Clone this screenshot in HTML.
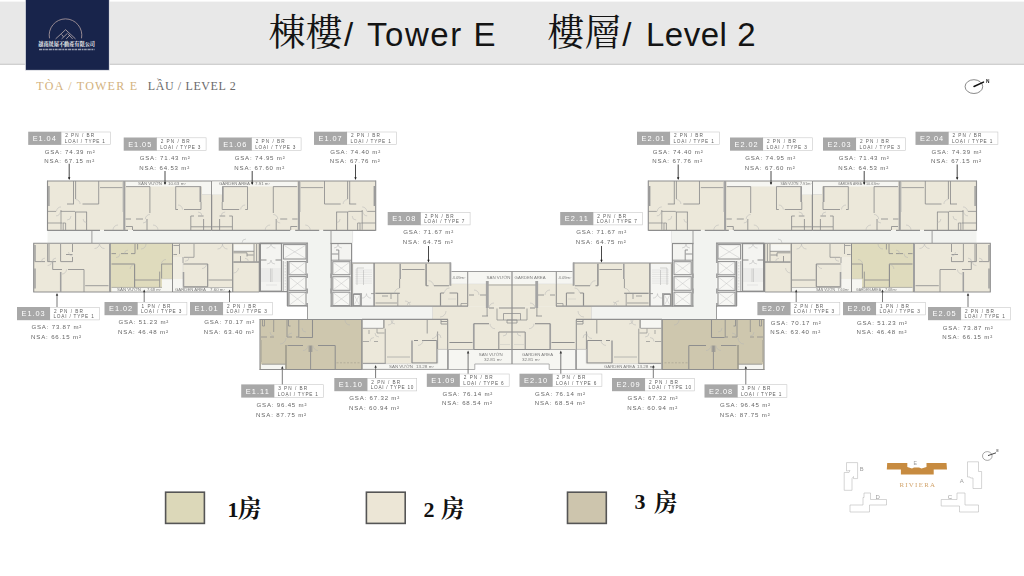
<!DOCTYPE html>
<html><head><meta charset="utf-8"><title>Tower E Level 2</title>
<style>
html,body{margin:0;padding:0;background:#fff}
body{width:1024px;height:576px;overflow:hidden;position:relative;font-family:"Liberation Sans",sans-serif}
svg{position:absolute;left:0;top:0;display:block}
svg text{font-family:"Liberation Sans",sans-serif}
svg text.serif{font-family:"Liberation Serif","Noto Serif CJK SC",serif}
svg text.c{font-size:7.4px;fill:#ffffff}
svg text.a{font-size:4.7px;fill:#5e5e5e}
svg text.b{font-size:4.7px;fill:#5e5e5e}
svg text.g{font-size:6.1px;fill:#666}
</style></head><body>
<svg width="1024" height="576" viewBox="0 0 1024 576">
<defs>
<filter id="soft" x="-2%" y="-2%" width="104%" height="104%"><feGaussianBlur stdDeviation="0.5"/></filter>
<filter id="soft2" x="-5%" y="-20%" width="110%" height="140%"><feGaussianBlur stdDeviation="0.3"/></filter>
<g id="half"><rect x="47.5" y="181.0" width="328.0" height="49.3" fill="#ece8da" /><rect x="47.5" y="230.3" width="305.2" height="12.9" fill="#f2f3f0" /><rect x="307.5" y="243.0" width="23.5" height="76.5" fill="#f2f3f0" /><rect x="307.5" y="306.5" width="125.0" height="13.0" fill="#f2f3f0" /><rect x="33.7" y="243.2" width="76.3" height="48.8" fill="#ece8da" /><rect x="110.0" y="243.2" width="62.5" height="48.8" fill="#dfdbbd" /><rect x="172.5" y="243.2" width="87.0" height="48.8" fill="#ece8da" /><rect x="173.0" y="257.0" width="10.0" height="22.0" fill="#f0ede2" /><rect x="111.5" y="287.6" width="61.0" height="4.4" fill="#f6f6f2" /><rect x="162.0" y="279.0" width="10.5" height="13.0" fill="#f6f6f2" /><rect x="172.5" y="279.0" width="10.3" height="13.0" fill="#f6f6f2" /><rect x="172.5" y="287.6" width="59.5" height="4.4" fill="#f6f6f2" /><rect x="234.0" y="244.5" width="20.0" height="6.5" fill="#f6f6f2" /><rect x="260.0" y="243.5" width="47.5" height="62.5" fill="#f4f4f1" /><rect x="260.0" y="291.5" width="27.0" height="15.0" fill="#ffffff" /><rect x="331.0" y="243.5" width="20.5" height="62.5" fill="#f4f4f1" /><rect x="352.0" y="263.0" width="99.0" height="43.2" fill="#ece8da" /><rect x="353.0" y="264.0" width="21.0" height="42.0" fill="#f5f5f2" /><rect x="451.0" y="283.7" width="61.0" height="22.5" fill="#ece8da" /><rect x="451.5" y="271.5" width="60.5" height="12.5" fill="#f6f6f2" /><rect x="432.5" y="306.2" width="79.5" height="43.3" fill="#ece8da" /><rect x="448.4" y="349.5" width="63.6" height="14.5" fill="#f6f6f2" /><rect x="448.4" y="364.0" width="26.4" height="5.5" fill="#f6f6f2" /><rect x="260.0" y="319.5" width="102.0" height="49.9" fill="#cec7ae" /><rect x="261.0" y="364.4" width="24.6" height="5.0" fill="#f6f6f2" /><rect x="361.8" y="319.4" width="85.9" height="50.0" fill="#ece8da" /><rect x="362.7" y="320.0" width="20.7" height="8.0" fill="#f6f6f2" /><rect x="362.7" y="363.7" width="85.0" height="5.7" fill="#f6f6f2" /><rect x="437.7" y="349.4" width="10.0" height="20.0" fill="#f6f6f2" /><rect x="126.0" y="181.5" width="85.6" height="4.9" fill="#f6f6f2" /><rect x="202.0" y="181.5" width="9.6" height="13.0" fill="#f6f6f2" /><path d="M47.5 181L211.6 181" stroke="#8e8e8e" stroke-width="1.12" fill="none" /><path d="M47.5 180.5L47.5 230.8" stroke="#8e8e8e" stroke-width="1.12" fill="none" /><path d="M47.5 230.3L100 230.3M104 230.3L128 230.3M133 230.3L211.6 230.3" stroke="#8e8e8e" stroke-width="1.29" fill="none" /><path d="M124.3 181L124.3 230.3" stroke="#a0a0a0" stroke-width="2.06" fill="none" /><path d="M48.9 186L48.9 206" stroke="#9a9a9a" stroke-width="1.38" fill="none" /><path d="M123 182L123 212" stroke="#b0b0b0" stroke-width="0.69" fill="none" /><path d="M73.5 181L73.5 204M67 204L74 204M75.6 181L75.6 199M82.5 204L98.7 204M98.7 181L98.7 204" stroke="#8e8e8e" stroke-width="0.86" fill="none" /><path d="M100 187.6L122.5 187.6" stroke="#8e8e8e" stroke-width="0.77" fill="none" /><path d="M47.5 211.4L56 211.4M60.6 211.4L75 211.4M61 210L61 229.8M47.5 223L62 223M62.5 223L65.6 223M65.6 223L65.6 230M63.2 223L63.2 230" stroke="#8e8e8e" stroke-width="0.77" fill="none" /><path d="M75.6 212L75.6 230M75 212L87 212M86.6 212L86.6 230" stroke="#8e8e8e" stroke-width="0.86" fill="none" /><path d="M80.1 204A4.5 4.5 0 0 0 75.6 199.5" stroke="#b5b5b5" stroke-width="0.5" fill="none"/><path d="M61 206.9A4.5 4.5 0 0 0 56.5 211.4" stroke="#b5b5b5" stroke-width="0.5" fill="none"/><path d="M56 215.9A4.5 4.5 0 0 0 60.5 211.4" stroke="#b5b5b5" stroke-width="0.5" fill="none"/><path d="M83.1 219A3.5 3.5 0 0 0 86.6 222.5" stroke="#b5b5b5" stroke-width="0.5" fill="none"/><path d="M118 225A5 5 0 0 0 113 230" stroke="#b5b5b5" stroke-width="0.5" fill="none"/><path d="M67 220A4 4 0 0 0 71 216" stroke="#b5b5b5" stroke-width="0.5" fill="none"/><path d="M126 186.6L150 186.6M149.9 186.6L149.9 213M125.6 219L131 219M136 219L143 219M147 219L147 230" stroke="#8e8e8e" stroke-width="0.86" fill="none" /><path d="M126 226.5L132.5 226.5M132.5 226.5L132.5 230" stroke="#8e8e8e" stroke-width="0.86" fill="none" /><path d="M175.6 186.6L201 186.6M175.7 186.6L175.7 209.5M175.6 209.5L178 209.5M184 209.5L201 209.5M201 202L201 209.5" stroke="#8e8e8e" stroke-width="0.86" fill="none" /><path d="M200.4 186.6L200.4 202" stroke="#9a9a9a" stroke-width="1.72" fill="none" /><path d="M202 194.5L211.6 194.5" stroke="#c8c8c8" stroke-width="0.43" fill="none" /><path d="M190.8 216L190.8 230M190.8 216L194 216M203.6 219L203.6 230M191 226.8L211 226.8M198 216L203.6 216" stroke="#8e8e8e" stroke-width="0.86" fill="none" /><path d="M211.6 181L211.6 230.3" stroke="#8e8e8e" stroke-width="1.03" fill="none" /><path d="M149.9 214.5A4.5 4.5 0 0 0 145.4 219" stroke="#b5b5b5" stroke-width="0.5" fill="none"/><path d="M182.5 209.5A4.5 4.5 0 0 0 178 205" stroke="#b5b5b5" stroke-width="0.5" fill="none"/><path d="M158 230A5 5 0 0 0 153 225" stroke="#b5b5b5" stroke-width="0.5" fill="none"/><path d="M143 223A4 4 0 0 0 147 219" stroke="#b5b5b5" stroke-width="0.5" fill="none"/><path d="M202 216A4 4 0 0 0 198 212" stroke="#b5b5b5" stroke-width="0.5" fill="none"/><g transform="translate(423.2,0) scale(-1,1)"><rect x="126.0" y="181.5" width="85.6" height="4.9" fill="#f6f6f2" /><rect x="202.0" y="181.5" width="9.6" height="13.0" fill="#f6f6f2" /><path d="M47.5 181L211.6 181" stroke="#8e8e8e" stroke-width="1.12" fill="none" /><path d="M47.5 180.5L47.5 230.8" stroke="#8e8e8e" stroke-width="1.12" fill="none" /><path d="M47.5 230.3L100 230.3M104 230.3L128 230.3M133 230.3L211.6 230.3" stroke="#8e8e8e" stroke-width="1.29" fill="none" /><path d="M124.3 181L124.3 230.3" stroke="#a0a0a0" stroke-width="2.06" fill="none" /><path d="M48.9 186L48.9 206" stroke="#9a9a9a" stroke-width="1.38" fill="none" /><path d="M123 182L123 212" stroke="#b0b0b0" stroke-width="0.69" fill="none" /><path d="M73.5 181L73.5 204M67 204L74 204M75.6 181L75.6 199M82.5 204L98.7 204M98.7 181L98.7 204" stroke="#8e8e8e" stroke-width="0.86" fill="none" /><path d="M100 187.6L122.5 187.6" stroke="#8e8e8e" stroke-width="0.77" fill="none" /><path d="M47.5 211.4L56 211.4M60.6 211.4L75 211.4M61 210L61 229.8M47.5 223L62 223M62.5 223L65.6 223M65.6 223L65.6 230M63.2 223L63.2 230" stroke="#8e8e8e" stroke-width="0.77" fill="none" /><path d="M75.6 212L75.6 230M75 212L87 212M86.6 212L86.6 230" stroke="#8e8e8e" stroke-width="0.86" fill="none" /><path d="M80.1 204A4.5 4.5 0 0 0 75.6 199.5" stroke="#b5b5b5" stroke-width="0.5" fill="none"/><path d="M61 206.9A4.5 4.5 0 0 0 56.5 211.4" stroke="#b5b5b5" stroke-width="0.5" fill="none"/><path d="M56 215.9A4.5 4.5 0 0 0 60.5 211.4" stroke="#b5b5b5" stroke-width="0.5" fill="none"/><path d="M83.1 219A3.5 3.5 0 0 0 86.6 222.5" stroke="#b5b5b5" stroke-width="0.5" fill="none"/><path d="M118 225A5 5 0 0 0 113 230" stroke="#b5b5b5" stroke-width="0.5" fill="none"/><path d="M67 220A4 4 0 0 0 71 216" stroke="#b5b5b5" stroke-width="0.5" fill="none"/><path d="M126 186.6L150 186.6M149.9 186.6L149.9 213M125.6 219L131 219M136 219L143 219M147 219L147 230" stroke="#8e8e8e" stroke-width="0.86" fill="none" /><path d="M126 226.5L132.5 226.5M132.5 226.5L132.5 230" stroke="#8e8e8e" stroke-width="0.86" fill="none" /><path d="M175.6 186.6L201 186.6M175.7 186.6L175.7 209.5M175.6 209.5L178 209.5M184 209.5L201 209.5M201 202L201 209.5" stroke="#8e8e8e" stroke-width="0.86" fill="none" /><path d="M200.4 186.6L200.4 202" stroke="#9a9a9a" stroke-width="1.72" fill="none" /><path d="M202 194.5L211.6 194.5" stroke="#c8c8c8" stroke-width="0.43" fill="none" /><path d="M190.8 216L190.8 230M190.8 216L194 216M203.6 219L203.6 230M191 226.8L211 226.8M198 216L203.6 216" stroke="#8e8e8e" stroke-width="0.86" fill="none" /><path d="M211.6 181L211.6 230.3" stroke="#8e8e8e" stroke-width="1.03" fill="none" /><path d="M149.9 214.5A4.5 4.5 0 0 0 145.4 219" stroke="#b5b5b5" stroke-width="0.5" fill="none"/><path d="M182.5 209.5A4.5 4.5 0 0 0 178 205" stroke="#b5b5b5" stroke-width="0.5" fill="none"/><path d="M158 230A5 5 0 0 0 153 225" stroke="#b5b5b5" stroke-width="0.5" fill="none"/><path d="M143 223A4 4 0 0 0 147 219" stroke="#b5b5b5" stroke-width="0.5" fill="none"/><path d="M202 216A4 4 0 0 0 198 212" stroke="#b5b5b5" stroke-width="0.5" fill="none"/></g><rect x="212.0" y="181.5" width="10.0" height="13.0" fill="#f6f6f2" /><path d="M91.9 231L91.9 243M331 231L331 243" stroke="#8e8e8e" stroke-width="0.86" fill="none" /><path d="M352.6 231L352.6 243" stroke="#cfcfcf" stroke-width="0.43" fill="none" /><path d="M33.2 243.2L110 243.2M33.7 243.2L33.7 292M33.2 292L110 292" stroke="#8e8e8e" stroke-width="1.12" fill="none" /><path d="M110 243.2L110 292" stroke="#a0a0a0" stroke-width="1.98" fill="none" /><path d="M35 245L35 261M35 268.5L35 288.5" stroke="#9a9a9a" stroke-width="1.38" fill="none" /><path d="M34.6 261.6L45 261.6M47.6 261.6L56 261.6M60.8 261.6L72.7 261.6M47.6 244L47.6 261.6M49 244L49 261.6M60.6 244L60.6 261.6M72.5 244L72.5 252M72.5 257L72.5 261.6M66 254.5L72.5 254.5" stroke="#8e8e8e" stroke-width="0.86" fill="none" /><path d="M52.7 262L52.7 269.5M52.7 269.5L62 269.5M68 269.5L84 269.5M84 269.5L84 292M85.2 285.7L108.5 285.7" stroke="#8e8e8e" stroke-width="0.86" fill="none" /><path d="M60.7 272L60.7 292" stroke="#a0a0a0" stroke-width="1.55" fill="none" /><path d="M62 274A4.5 4.5 0 0 0 66.5 269.5" stroke="#b5b5b5" stroke-width="0.5" fill="none"/><path d="M47.6 265.6A4 4 0 0 0 51.6 261.6" stroke="#b5b5b5" stroke-width="0.5" fill="none"/><path d="M94.5 248.5A5 5 0 0 0 99.5 243.5" stroke="#b5b5b5" stroke-width="0.5" fill="none"/><path d="M99.5 243.5A5 5 0 0 0 104.5 248.5" stroke="#b5b5b5" stroke-width="0.5" fill="none"/><path d="M45 258.1A3.5 3.5 0 0 0 41.5 261.6" stroke="#b5b5b5" stroke-width="0.5" fill="none"/><path d="M56 258.1A3.5 3.5 0 0 0 52.5 261.6" stroke="#b5b5b5" stroke-width="0.5" fill="none"/><path d="M68.5 252A4 4 0 0 0 72.5 256" stroke="#b5b5b5" stroke-width="0.5" fill="none"/><path d="M110 243.2L172.5 243.2" stroke="#8e8e8e" stroke-width="1.12" fill="none" /><path d="M110 292L172.5 292" stroke="#8e8e8e" stroke-width="0.86" fill="none" /><path d="M111.5 253.6L116 253.6M121 253.6L128 253.6M131 253.6L135 253.6M135 244L135 253.6M137.6 244L137.6 249.5" stroke="#8e8e8e" stroke-width="0.86" fill="none" /><path d="M111.5 264L134.8 264M134.6 264L134.6 287.3" stroke="#8e8e8e" stroke-width="1.12" fill="none" /><path d="M111.5 287.4L162 287.4" stroke="#8e8e8e" stroke-width="0.60" fill="none" /><path d="M135 280L159.5 280M159.7 271.6L159.7 287.3M161.6 264L161.6 278.6M161.6 264L172 264" stroke="#8e8e8e" stroke-width="0.86" fill="none" /><path d="M162 279L172.5 279" stroke="#c8c8c8" stroke-width="0.43" fill="none" /><path d="M172.5 243.2L172.5 292" stroke="#8e8e8e" stroke-width="1.03" fill="none" /><path d="M128 250.1A3.5 3.5 0 0 0 124.5 253.6" stroke="#b5b5b5" stroke-width="0.5" fill="none"/><path d="M116 257.6A4 4 0 0 0 120 253.6" stroke="#b5b5b5" stroke-width="0.5" fill="none"/><path d="M134.6 264.5A4.5 4.5 0 0 0 130.1 269" stroke="#b5b5b5" stroke-width="0.5" fill="none"/><path d="M166 259.5A4.5 4.5 0 0 0 161.5 264" stroke="#b5b5b5" stroke-width="0.5" fill="none"/><path d="M141 249A5 5 0 0 0 146 244" stroke="#b5b5b5" stroke-width="0.5" fill="none"/><path d="M172.5 243.2L259.5 243.2" stroke="#8e8e8e" stroke-width="1.12" fill="none" /><path d="M172.5 292L259.5 292" stroke="#8e8e8e" stroke-width="0.95" fill="none" /><path d="M173.4 245.5L179 245.5M179.5 244L179.5 254M173.4 254.5L177 254.5M194 244L194 257.3M184 257.3L194 257.3M183 257L183 263" stroke="#8e8e8e" stroke-width="0.77" fill="none" /><path d="M183 257L183 279" stroke="#c8c8c8" stroke-width="0.34" fill="none" /><path d="M183.4 264L207.8 264M207.7 264L207.7 286.8M183.4 286.8L207.7 286.8" stroke="#8e8e8e" stroke-width="1.12" fill="none" /><path d="M183.5 272L183.5 286.8" stroke="#a0a0a0" stroke-width="1.55" fill="none" /><path d="M208.5 280L232 280" stroke="#8e8e8e" stroke-width="0.86" fill="none" /><path d="M182.7 287.5L232 287.5" stroke="#8e8e8e" stroke-width="0.52" fill="none" /><path d="M232.7 243.2L232.7 292" stroke="#8e8e8e" stroke-width="1.20" fill="none" /><path d="M233.4 251.3L254 251.3M254 244L254 261.5M256.6 244L256.6 261.5M233.4 261.8L259 261.8M233.4 252.8L247 252.8M247 252.8L247 256.5M240.5 256L240.5 261.8M247 255L253.5 255" stroke="#8e8e8e" stroke-width="0.86" fill="none" /><path d="M233.4 262.4L259 262.4" stroke="#8e8e8e" stroke-width="0.69" fill="none" /><path d="M259.4 243.2L259.4 292" stroke="#8e8e8e" stroke-width="1.29" fill="none" /><path d="M202 268.5A4.5 4.5 0 0 0 206.5 264" stroke="#b5b5b5" stroke-width="0.5" fill="none"/><path d="M217.5 249A5 5 0 0 0 222.5 244" stroke="#b5b5b5" stroke-width="0.5" fill="none"/><path d="M222.5 244A5 5 0 0 0 227.5 249" stroke="#b5b5b5" stroke-width="0.5" fill="none"/><path d="M233.4 273A5 5 0 0 0 238.4 268" stroke="#b5b5b5" stroke-width="0.5" fill="none"/><path d="M185 261.3A4 4 0 0 0 189 257.3" stroke="#b5b5b5" stroke-width="0.5" fill="none"/><path d="M246 239A4 4 0 0 0 242 243" stroke="#b5b5b5" stroke-width="0.5" fill="none"/><path d="M248.5 261.8A3.5 3.5 0 0 0 245 258.3" stroke="#b5b5b5" stroke-width="0.5" fill="none"/><rect x="260.4" y="243.6" width="21.1" height="47.6" fill="#f4f4f1" stroke="#8e8e8e" stroke-width="1.2"/><path d="M260.4 260L266.5 260M275.5 260L281.5 260" stroke="#8e8e8e" stroke-width="1.03" fill="none" /><path d="M261 269L281 269M261 271L281 271M261 273L281 273M261 275L281 275M261 277L281 277M261 279L281 279M261 281L281 281M266 285L277 285" stroke="#c2c2c2" stroke-width="0.30" fill="none" /><path d="M270.5 268.5L270.5 282M272 268.5L272 282" stroke="#9a9a9a" stroke-width="0.34" fill="none" /><path d="M266.5 248.1A4.5 4.5 0 0 0 271 243.6" stroke="#b5b5b5" stroke-width="0.5" fill="none"/><path d="M271 243.6A4.5 4.5 0 0 0 275.5 248.1" stroke="#b5b5b5" stroke-width="0.5" fill="none"/><path d="M267 264A4 4 0 0 0 271 260" stroke="#b5b5b5" stroke-width="0.5" fill="none"/><path d="M271 260A4 4 0 0 0 275 264" stroke="#b5b5b5" stroke-width="0.5" fill="none"/><rect x="283.4" y="244.6" width="22.6" height="14.4" fill="#f7f7f4" stroke="#8e8e8e" stroke-width="1"/><path d="M284.4 245.6L305 258M305 245.6L284.4 258" stroke="#c4c4c4" stroke-width="0.5"/><path d="M287.6 261L287.6 306" stroke="#8e8e8e" stroke-width="1.63" fill="none" /><path d="M283.3 261L283.3 291" stroke="#8e8e8e" stroke-width="0.69" fill="none" /><path d="M285.3 262L285.3 290" stroke="#b0b0b0" stroke-width="0.34" fill="none" stroke-dasharray="1.5 1.5"/><rect x="289" y="261.6" width="17.0" height="13.2" fill="#f7f7f4" stroke="#8e8e8e" stroke-width="1"/><path d="M290 262.6L305 273.8M305 262.6L290 273.8" stroke="#c4c4c4" stroke-width="0.5"/><rect x="289" y="276.6" width="17.0" height="13.8" fill="#f7f7f4" stroke="#8e8e8e" stroke-width="1"/><path d="M290 277.6L305 289.4M305 277.6L290 289.4" stroke="#c4c4c4" stroke-width="0.5"/><rect x="289" y="292.2" width="17.0" height="13.4" fill="#f7f7f4" stroke="#8e8e8e" stroke-width="1"/><path d="M290 293.2L305 304.6M305 293.2L290 304.6" stroke="#c4c4c4" stroke-width="0.5"/><path d="M307.1 243.2L307.1 263" stroke="#a0a0a0" stroke-width="1.89" fill="none" /><path d="M307.1 273.5L307.1 278M307.1 288.5L307.1 293.5M307.1 303L307.1 306.5" stroke="#a0a0a0" stroke-width="1.72" fill="none" /><path d="M259.5 243.2L308 243.2" stroke="#8e8e8e" stroke-width="1.20" fill="none" /><path d="M260 291.6L288 291.6M287 306L308 306" stroke="#8e8e8e" stroke-width="1.12" fill="none" /><path d="M330.4 243.5L352 243.5" stroke="#8e8e8e" stroke-width="1.20" fill="none" /><path d="M331.2 243.5L331.2 306.3" stroke="#8e8e8e" stroke-width="1.20" fill="none" /><path d="M351.6 243.2L351.6 306.3" stroke="#8e8e8e" stroke-width="1.20" fill="none" /><path d="M331 260.2L351.6 260.2M338.8 250L338.8 260.2M331.6 254L338.4 254M338.8 250L336 250" stroke="#8e8e8e" stroke-width="0.95" fill="none" /><path d="M334 248A4 4 0 0 0 338 244" stroke="#b5b5b5" stroke-width="0.5" fill="none"/><path d="M338 244A4 4 0 0 0 342 248" stroke="#b5b5b5" stroke-width="0.5" fill="none"/><rect x="332.8" y="261.7" width="17.2" height="13.0" fill="#f7f7f4" stroke="#8e8e8e" stroke-width="1"/><path d="M333.8 262.7L349 273.7M349 262.7L333.8 273.7" stroke="#c4c4c4" stroke-width="0.5"/><rect x="332.8" y="276.7" width="17.2" height="13.6" fill="#f7f7f4" stroke="#8e8e8e" stroke-width="1"/><path d="M333.8 277.7L349 289.3M349 277.7L333.8 289.3" stroke="#c4c4c4" stroke-width="0.5"/><rect x="332.8" y="292.2" width="17.2" height="13.4" fill="#f7f7f4" stroke="#8e8e8e" stroke-width="1"/><path d="M333.8 293.2L349 304.6M349 293.2L333.8 304.6" stroke="#c4c4c4" stroke-width="0.5"/><path d="M331.2 273.5L331.2 278M331.2 288.5L331.2 293.5" stroke="#a0a0a0" stroke-width="1.89" fill="none" /><path d="M330.4 306.2L352 306.2" stroke="#8e8e8e" stroke-width="1.12" fill="none" /><path d="M352 263L451 263" stroke="#8e8e8e" stroke-width="1.20" fill="none" /><path d="M351.6 306.2L468 306.2" stroke="#8e8e8e" stroke-width="1.20" fill="none" /><path d="M450.4 262.5L450.4 285.8" stroke="#a0a0a0" stroke-width="1.89" fill="none" /><path d="M352.6 264L352.6 306" stroke="#8e8e8e" stroke-width="0.69" fill="none" /><path d="M355 270L372 270M355 272.2L372 272.2M355 274.4L372 274.4M355 276.6L372 276.6M355 278.8L372 278.8M355 281L372 281M355 283.2L372 283.2" stroke="#c2c2c2" stroke-width="0.30" fill="none" /><path d="M357 268L357 285M363.5 270L363.5 285M357 268L364 268" stroke="#9a9a9a" stroke-width="0.39" fill="none" /><rect x="353.4" y="294.4" width="6.9" height="11.2" fill="#f7f7f4" stroke="#8e8e8e" stroke-width="1"/><path d="M354.4 295.4L359.3 304.6M359.3 295.4L354.4 304.6" stroke="#c4c4c4" stroke-width="0.5"/><path d="M361.5 294L361.5 306M353.4 293.6L362 293.6M371 293.6L374 293.6" stroke="#8e8e8e" stroke-width="0.77" fill="none" /><path d="M362 298.1A4.5 4.5 0 0 0 366.5 293.6" stroke="#b5b5b5" stroke-width="0.5" fill="none"/><path d="M366.5 293.6A4.5 4.5 0 0 0 371 298.1" stroke="#b5b5b5" stroke-width="0.5" fill="none"/><path d="M374.1 263L374.1 306.2" stroke="#8e8e8e" stroke-width="1.46" fill="none" /><path d="M400.2 263.7L400.2 279" stroke="#a0a0a0" stroke-width="1.55" fill="none" /><path d="M399.6 279L399.6 288" stroke="#8e8e8e" stroke-width="0.86" fill="none" /><path d="M375.3 293.3L399.8 293.3" stroke="#8e8e8e" stroke-width="1.20" fill="none" /><path d="M375.5 303L397 303M397.8 294L397.8 306M382 296L388 296M391 294L391 299" stroke="#8e8e8e" stroke-width="0.77" fill="none" /><path d="M402 269.5L424.6 269.5" stroke="#8e8e8e" stroke-width="0.86" fill="none" /><path d="M426.1 263.7L426.1 285.8" stroke="#8e8e8e" stroke-width="1.46" fill="none" /><path d="M426 285.7L428.5 285.7M434 285.7L449 285.7" stroke="#8e8e8e" stroke-width="1.12" fill="none" /><path d="M440.5 293L440.5 305.8" stroke="#8e8e8e" stroke-width="1.20" fill="none" /><path d="M440.5 293L444 293M449.5 293L457.6 293M457.6 293L457.6 305.8" stroke="#8e8e8e" stroke-width="1.03" fill="none" /><path d="M448 299L456 299" stroke="#b8b8b8" stroke-width="0.34" fill="none" /><path d="M461 303.5L467 303.5M461 303.5L461 306" stroke="#8e8e8e" stroke-width="0.69" fill="none" /><path d="M399.6 288.3A5 5 0 0 0 394.6 293.3" stroke="#b5b5b5" stroke-width="0.5" fill="none"/><path d="M433.5 285.7A5 5 0 0 0 428.5 280.7" stroke="#b5b5b5" stroke-width="0.5" fill="none"/><path d="M449.5 288A5 5 0 0 0 444.5 293" stroke="#b5b5b5" stroke-width="0.5" fill="none"/><path d="M410 306A5 5 0 0 0 405 301" stroke="#b5b5b5" stroke-width="0.5" fill="none"/><path d="M411 302A4 4 0 0 0 407 306" stroke="#b5b5b5" stroke-width="0.5" fill="none"/><path d="M451.5 271.5L512 271.5" stroke="#8e8e8e" stroke-width="0.86" fill="none" /><path d="M467.7 271.5L467.7 306.2" stroke="#8e8e8e" stroke-width="1.03" fill="none" /><path d="M451.5 283.8L467 283.8M468.5 283.8L487 283.8" stroke="#cfcfcf" stroke-width="0.34" fill="none" /><path d="M487.3 281L487.3 308" stroke="#a4a4a4" stroke-width="2.84" fill="none" /><path d="M488.4 285L512 285" stroke="#8e8e8e" stroke-width="0.69" fill="none" /><path d="M489 308L494 308M499 308L512 308" stroke="#8e8e8e" stroke-width="1.20" fill="none" /><path d="M469 295L474 295M480 295L486 295" stroke="#8e8e8e" stroke-width="0.86" fill="none" /><path d="M487.1 308L487.1 316M482 316L488 316" stroke="#8e8e8e" stroke-width="0.86" fill="none" /><path d="M497 308.5L497 320M497 320L512 320M503.5 313.5L512 313.5M503.5 313.5L503.5 320M507 320L512 320M507 320L507 323M507 323L512 323" stroke="#8e8e8e" stroke-width="0.77" fill="none" /><path d="M473.8 323.7L473.8 349.5" stroke="#a0a0a0" stroke-width="1.72" fill="none" /><path d="M473.7 323.7L489 323.7" stroke="#8e8e8e" stroke-width="1.12" fill="none" /><path d="M498.8 332L512 332M498.8 332L498.8 349.5" stroke="#8e8e8e" stroke-width="1.03" fill="none" /><path d="M500 344.5L510 344.5" stroke="#b8b8b8" stroke-width="0.34" fill="none" /><path d="M473.7 349.5L512 349.5" stroke="#8e8e8e" stroke-width="1.20" fill="none" /><path d="M449.4 342.5L472.5 342.5" stroke="#8e8e8e" stroke-width="1.03" fill="none" /><path d="M448.4 349.5L473.7 349.5" stroke="#8e8e8e" stroke-width="0.69" fill="none" /><path d="M448.4 349.5L448.4 369.5M448 369.5L474.8 369.5M474.8 369.5L474.8 364M474.8 364L512 364" stroke="#9a9a9a" stroke-width="0.77" fill="none" /><path d="M479 295A5 5 0 0 0 474 290" stroke="#b5b5b5" stroke-width="0.5" fill="none"/><path d="M494 303A5 5 0 0 0 489 308" stroke="#b5b5b5" stroke-width="0.5" fill="none"/><path d="M490 323.7A5 5 0 0 0 495 328.7" stroke="#b5b5b5" stroke-width="0.5" fill="none"/><path d="M440 317A6 6 0 0 0 446 311" stroke="#b5b5b5" stroke-width="0.5" fill="none"/><path d="M503 336A4 4 0 0 0 507 332" stroke="#b5b5b5" stroke-width="0.5" fill="none"/><path d="M307.5 306L307.5 319.5" stroke="#8e8e8e" stroke-width="0.86" fill="none" /><path d="M432.5 307L432.5 319" stroke="#c8c8c8" stroke-width="0.43" fill="none" /><path d="M259.5 319.5L362 319.5" stroke="#8e8e8e" stroke-width="1.20" fill="none" /><path d="M260 319.5L260 369.8" stroke="#8e8e8e" stroke-width="1.12" fill="none" /><path d="M259.5 369.4L362 369.4" stroke="#8e8e8e" stroke-width="1.03" fill="none" /><path d="M361.9 319.5L361.9 369.4" stroke="#8e8e8e" stroke-width="1.46" fill="none" /><path d="M261.2 340L261.2 362" stroke="#b4b0a0" stroke-width="1.38" fill="none" /><path d="M261 337L267 337M270 337L274 337M273.7 320L273.7 332M262.5 320L262.5 326M262.5 326L264.5 326M264.5 320L264.5 326" stroke="#8e8e8e" stroke-width="0.77" fill="none" /><path d="M287 320L287 337M287 337L292 337M296 337L298.7 337M298.8 320L298.8 337.5M288.5 320L288.5 326M288.5 326L290.5 326" stroke="#8e8e8e" stroke-width="0.86" fill="none" /><path d="M299.4 337.5L312.6 337.5M312.5 320L312.5 337.5" stroke="#8e8e8e" stroke-width="1.03" fill="none" /><path d="M286 345L286 369" stroke="#9a978a" stroke-width="1.46" fill="none" /><path d="M262 364.2L285.6 364.2" stroke="#8e8e8e" stroke-width="0.77" fill="none" /><path d="M287.5 345.5L303 345.5M310.6 345.5L310.6 369.4M309.2 345.5L309.2 352M311.8 345.5L311.8 352" stroke="#8e8e8e" stroke-width="0.95" fill="none" /><path d="M318 345.5L335.2 345.5M335.2 345.5L335.2 369.4" stroke="#8e8e8e" stroke-width="1.03" fill="none" /><path d="M336.5 362.8L360 362.8" stroke="#9a978a" stroke-width="0.52" fill="none" stroke-dasharray="2 1.5"/><path d="M303 350.5A5 5 0 0 0 308 345.5" stroke="#b5b5b5" stroke-width="0.5" fill="none"/><path d="M313 345.5A5 5 0 0 0 318 350.5" stroke="#b5b5b5" stroke-width="0.5" fill="none"/><path d="M280 344A6 6 0 0 0 286 338" stroke="#b5b5b5" stroke-width="0.5" fill="none"/><path d="M270 332A4 4 0 0 0 274 336" stroke="#b5b5b5" stroke-width="0.5" fill="none"/><path d="M292 333A4 4 0 0 0 288 337" stroke="#b5b5b5" stroke-width="0.5" fill="none"/><path d="M345 320A5 5 0 0 0 350 325" stroke="#b5b5b5" stroke-width="0.5" fill="none"/><path d="M302 328A4 4 0 0 0 306 332" stroke="#b5b5b5" stroke-width="0.5" fill="none"/><path d="M362 319.4L448 319.4" stroke="#8e8e8e" stroke-width="1.20" fill="none" /><path d="M447.7 319.4L447.7 369.4" stroke="#8e8e8e" stroke-width="1.03" fill="none" /><path d="M362 369.4L448 369.4" stroke="#8e8e8e" stroke-width="0.86" fill="none" /><path d="M362.7 328.3L383.4 328.3" stroke="#8e8e8e" stroke-width="0.77" fill="none" /><path d="M383.9 320L383.9 328.3" stroke="#8e8e8e" stroke-width="1.20" fill="none" /><path d="M385.2 328.7L385.2 363.3" stroke="#8e8e8e" stroke-width="0.86" fill="none" /><path d="M362.7 341.5L369 341.5M374 341.5L378 341.5M377 328.5L377 333M377 333L384.5 333M369 330L369 334" stroke="#8e8e8e" stroke-width="0.69" fill="none" /><path d="M362.7 363.4L385.8 363.4" stroke="#8e8e8e" stroke-width="1.12" fill="none" /><path d="M387 357L410 357" stroke="#a2a2a2" stroke-width="0.69" fill="none" /><path d="M412 340.5L412 363" stroke="#a2a2a2" stroke-width="1.63" fill="none" /><path d="M414 340.4L418 340.4M422 340.4L436.8 340.4" stroke="#8e8e8e" stroke-width="1.03" fill="none" /><path d="M436.9 340.4L436.9 363" stroke="#a2a2a2" stroke-width="1.46" fill="none" /><path d="M412 362.9L437 362.9" stroke="#8e8e8e" stroke-width="1.03" fill="none" /><path d="M427.2 320L427.2 333.5M437.6 331.5L437.6 349M441 321.5L447 321.5M441 320L441 324M441 324L447 324" stroke="#8e8e8e" stroke-width="0.86" fill="none" /><path d="M437.7 349.5L437.7 363.5M437.7 349.4L447.7 349.4" stroke="#a8a8a8" stroke-width="0.52" fill="none" /><path d="M362.7 363.7L437.7 363.7" stroke="#bdbdbd" stroke-width="0.43" fill="none" /><path d="M388 325A5 5 0 0 0 393 320" stroke="#b5b5b5" stroke-width="0.5" fill="none"/><path d="M391 320A4 4 0 0 0 395 324" stroke="#b5b5b5" stroke-width="0.5" fill="none"/><path d="M418 345.4A5 5 0 0 0 423 340.4" stroke="#b5b5b5" stroke-width="0.5" fill="none"/><path d="M432 338.5A5 5 0 0 0 437 333.5" stroke="#b5b5b5" stroke-width="0.5" fill="none"/><path d="M441 338A4 4 0 0 0 437 334" stroke="#b5b5b5" stroke-width="0.5" fill="none"/><path d="M374 337.5A4 4 0 0 0 370 341.5" stroke="#b5b5b5" stroke-width="0.5" fill="none"/><path d="M375 333A4 4 0 0 0 379 337" stroke="#b5b5b5" stroke-width="0.5" fill="none"/></g>
</defs>
<rect x="0" y="0" width="1024" height="576" fill="#fff"/>
<!-- header band -->
<rect x="0" y="1.6" width="1024" height="62.4" fill="#e8e8e8"/>
<rect x="0" y="63.8" width="1024" height="0.9" fill="#bcbcbc"/>
<rect x="25.3" y="-1" width="84" height="71.3" fill="#18244b" stroke="#f4f4f6" stroke-width="0.8"/><path d="M49.5 38.3A16.3 16.3 0 1 1 81.5 38.3" stroke="#bfaaa8" stroke-width="0.75" fill="none"/><path d="M55.6 38.9L65.6 29.7L75.5 38.9M61.6 38.9L67.6 33.2M61.6 34.4L63.4 36.8M66.2 38.9L70 35M68 33.8L72.6 38.9" stroke="#d4c2bd" stroke-width="0.7" fill="none"/><text class="serif" x="38.3" y="46" font-size="5.2" font-weight="bold" fill="#f2f2f2" textLength="56.7" lengthAdjust="spacing">越南晟屋不動產有限公司</text><path d="M39 49.5H94.5" stroke="#c9ccd6" stroke-width="1.3" stroke-dasharray="3.2 0.7 1.8 0.6 2.6 0.8" opacity="0.75"/>
<text class="serif" x="268.5" y="46" font-size="37" fill="#141414">棟樓</text><text x="344" y="46.3" font-size="33" fill="#141414">/</text><text x="367" y="46.3" font-size="33" fill="#141414" textLength="128.4" lengthAdjust="spacing">Tower E</text><text class="serif" x="547.3" y="46" font-size="37" fill="#141414">樓層</text><text x="622.3" y="46.3" font-size="33" fill="#141414">/</text><text x="646" y="46.3" font-size="33" fill="#141414" textLength="109.5" lengthAdjust="spacing">Level 2</text>
<text class="serif" x="36.3" y="89.6" font-size="12" fill="#d3b27e" textLength="100.7" lengthAdjust="spacing">TÒA / TOWER E</text><text class="serif" x="147.7" y="89.6" font-size="12" fill="#6a6a6a" textLength="88" lengthAdjust="spacing">LẦU / LEVEL 2</text>
<ellipse cx="973.9" cy="86.6" rx="8.8" ry="6.9" fill="none" stroke="#3a3a3a" stroke-width="0.6"/><path d="M974 86.5L983.5 82.1" stroke="#111" stroke-width="1.5" stroke-linecap="round"/><g filter="url(#soft2)"><text x="986" y="82.6" font-size="4.8" font-weight="bold" fill="#222">N</text></g>
<!-- floor plan -->
<g filter="url(#soft)">
<use href="#half"/>
<use href="#half" transform="translate(1024,0) scale(-1,1)"/>
<path d="M512 271.5V364" stroke="#8e8e8e" stroke-width="1.2"/>
<text x="138" y="185" font-size="3.0" fill="#7c7c7c" textLength="24" lengthAdjust="spacingAndGlyphs">SÂN VƯỜN</text><text x="168" y="185" font-size="3.0" fill="#7c7c7c" textLength="18" lengthAdjust="spacingAndGlyphs">10.63 m²</text><text x="219" y="185" font-size="3.0" fill="#7c7c7c" textLength="31" lengthAdjust="spacingAndGlyphs">GARDEN AREA</text><text x="255" y="185" font-size="3.0" fill="#7c7c7c" textLength="15" lengthAdjust="spacingAndGlyphs">7.91 m²</text><text x="117" y="291" font-size="3.0" fill="#7c7c7c" textLength="24" lengthAdjust="spacingAndGlyphs">SÂN VƯỜN</text><text x="147" y="291" font-size="3.0" fill="#7c7c7c" textLength="14" lengthAdjust="spacingAndGlyphs">7.68 m²</text><text x="175" y="291" font-size="3.0" fill="#7c7c7c" textLength="31" lengthAdjust="spacingAndGlyphs">GARDEN AREA</text><text x="210" y="291" font-size="3.0" fill="#7c7c7c" textLength="15" lengthAdjust="spacingAndGlyphs">7.60 m²</text><text x="389" y="368.3" font-size="3.1999999999999997" fill="#7c7c7c" textLength="24" lengthAdjust="spacingAndGlyphs">SÂN VƯỜN</text><text x="416" y="368.3" font-size="3.1999999999999997" fill="#7c7c7c" textLength="18" lengthAdjust="spacingAndGlyphs">13.28 m²</text><text x="452.5" y="278.5" font-size="3.0" fill="#7c7c7c" textLength="13" lengthAdjust="spacingAndGlyphs">4.09m²</text><text x="558.5" y="278.5" font-size="3.0" fill="#7c7c7c" textLength="13" lengthAdjust="spacingAndGlyphs">4.09m²</text><text x="486.5" y="278.5" font-size="3.6" fill="#7c7c7c" textLength="24" lengthAdjust="spacingAndGlyphs">SÂN VƯỜN</text><text x="514.6" y="278.5" font-size="3.6" fill="#7c7c7c" textLength="31" lengthAdjust="spacingAndGlyphs">GARDEN AREA</text><text x="478.7" y="356" font-size="3.4" fill="#7c7c7c" textLength="24" lengthAdjust="spacingAndGlyphs">SÂN VƯỜN</text><text x="484" y="361.2" font-size="3.4" fill="#7c7c7c" textLength="18" lengthAdjust="spacingAndGlyphs">32.81 m²</text><text x="522" y="356" font-size="3.4" fill="#7c7c7c" textLength="31" lengthAdjust="spacingAndGlyphs">GARDEN AREA</text><text x="522" y="361.2" font-size="3.4" fill="#7c7c7c" textLength="18" lengthAdjust="spacingAndGlyphs">32.81 m²</text><text x="604" y="368.3" font-size="3.1999999999999997" fill="#7c7c7c" textLength="31" lengthAdjust="spacingAndGlyphs">GARDEN AREA</text><text x="637" y="368.3" font-size="3.1999999999999997" fill="#7c7c7c" textLength="18" lengthAdjust="spacingAndGlyphs">13.28 m²</text><text x="780.5" y="185" font-size="3.0" fill="#7c7c7c" textLength="18" lengthAdjust="spacingAndGlyphs">SÂN VƯỜN</text><text x="800" y="185" font-size="3.0" fill="#7c7c7c" textLength="11.5" lengthAdjust="spacingAndGlyphs">7.91m²</text><text x="838" y="185" font-size="3.0" fill="#7c7c7c" textLength="24" lengthAdjust="spacingAndGlyphs">GARDEN AREA</text><text x="866" y="185" font-size="3.0" fill="#7c7c7c" textLength="14" lengthAdjust="spacingAndGlyphs">10.63m²</text><text x="816" y="291" font-size="3.0" fill="#7c7c7c" textLength="19" lengthAdjust="spacingAndGlyphs">SÂN VƯỜN</text><text x="837.5" y="291" font-size="3.0" fill="#7c7c7c" textLength="11.5" lengthAdjust="spacingAndGlyphs">7.60m²</text><text x="856" y="291" font-size="3.0" fill="#7c7c7c" textLength="25" lengthAdjust="spacingAndGlyphs">GARDEN AREA</text><text x="885" y="291" font-size="3.0" fill="#7c7c7c" textLength="12" lengthAdjust="spacingAndGlyphs">7.68m²</text>
</g>
<g filter="url(#soft2)">
<rect x="61.0" y="132.0" width="49.6" height="12.6" fill="#fff" stroke="#c9c9c9" stroke-width="0.6"/><rect x="28.2" y="131.7" width="33" height="13.2" fill="#a8a8a8"/><text class="c" x="32.76" y="141" textLength="23">E1.04</text><text class="a" x="65.13" y="137.45" textLength="28.9">2 PN / BR</text><text class="b" x="64.67" y="142.9" textLength="40.3">LOẠI / TYPE 1</text><text class="g" x="44.68" y="154" textLength="50">GSA: 74.39 m²</text><text class="g" x="44.31" y="163" textLength="50">NSA: 67.15 m²</text><path d="M69.2 163.7V179" stroke="#333" stroke-width="0.9"/><path d="M68.0 177.2L69.2 180L70.4 177.2Z" fill="#222"/><rect x="156.5" y="137.8" width="49.6" height="12.6" fill="#fff" stroke="#c9c9c9" stroke-width="0.6"/><rect x="123.7" y="137.5" width="33" height="13.2" fill="#a8a8a8"/><text class="c" x="128.26" y="146.8" textLength="23">E1.05</text><text class="a" x="160.63" y="143.25" textLength="28.9">2 PN / BR</text><text class="b" x="160.17" y="148.7" textLength="40.3">LOẠI / TYPE 3</text><text class="g" x="139.68" y="160" textLength="50">GSA: 71.43 m²</text><text class="g" x="139.31" y="169.5" textLength="50">NSA: 64.53 m²</text><path d="M165 171V184" stroke="#333" stroke-width="0.9"/><path d="M163.8 182.2L165 185L166.2 182.2Z" fill="#222"/><rect x="251.5" y="137.8" width="49.6" height="12.6" fill="#fff" stroke="#c9c9c9" stroke-width="0.6"/><rect x="218.7" y="137.5" width="33" height="13.2" fill="#a8a8a8"/><text class="c" x="223.26" y="146.8" textLength="23">E1.06</text><text class="a" x="255.63" y="143.25" textLength="28.9">2 PN / BR</text><text class="b" x="255.17" y="148.7" textLength="40.3">LOẠI / TYPE 3</text><text class="g" x="234.68" y="160" textLength="50">GSA: 74.95 m²</text><text class="g" x="234.31" y="169.5" textLength="50">NSA: 67.60 m²</text><path d="M252.2 171V184" stroke="#333" stroke-width="0.9"/><path d="M251.0 182.2L252.2 185L253.39999999999998 182.2Z" fill="#222"/><rect x="346.8" y="132.0" width="49.6" height="12.6" fill="#fff" stroke="#c9c9c9" stroke-width="0.6"/><rect x="314.0" y="131.7" width="33" height="13.2" fill="#a8a8a8"/><text class="c" x="318.56" y="141" textLength="23">E1.07</text><text class="a" x="350.93" y="137.45" textLength="28.9">2 PN / BR</text><text class="b" x="350.47" y="142.9" textLength="40.3">LOẠI / TYPE 1</text><text class="g" x="330.18" y="154" textLength="50">GSA: 74.40 m²</text><text class="g" x="329.81" y="163" textLength="50">NSA: 67.76 m²</text><path d="M355.5 164.5V179" stroke="#333" stroke-width="0.9"/><path d="M354.3 177.2L355.5 180L356.7 177.2Z" fill="#222"/><rect x="420.5" y="212.3" width="49.6" height="12.6" fill="#fff" stroke="#c9c9c9" stroke-width="0.6"/><rect x="387.7" y="212.0" width="33" height="13.2" fill="#a8a8a8"/><text class="c" x="392.26" y="221.3" textLength="23">E1.08</text><text class="a" x="424.63" y="217.75" textLength="28.9">2 PN / BR</text><text class="b" x="424.17" y="223.2" textLength="40.3">LOẠI / TYPE 7</text><text class="g" x="403.18" y="234" textLength="50">GSA: 71.67 m²</text><text class="g" x="402.81" y="243.7" textLength="50">NSA: 64.75 m²</text><path d="M428.5 246V261.5" stroke="#333" stroke-width="0.9"/><path d="M427.3 259.7L428.5 262.5L429.7 259.7Z" fill="#222"/><rect x="49.8" y="307.3" width="49.6" height="12.6" fill="#fff" stroke="#c9c9c9" stroke-width="0.6"/><rect x="17.0" y="307.0" width="33" height="13.2" fill="#a8a8a8"/><text class="c" x="21.56" y="316.3" textLength="23">E1.03</text><text class="a" x="53.93" y="312.75" textLength="28.9">2 PN / BR</text><text class="b" x="53.47" y="318.2" textLength="40.3">LOẠI / TYPE 1</text><text class="g" x="31.38" y="329" textLength="50">GSA: 73.87 m²</text><text class="g" x="31.01" y="338.7" textLength="50">NSA: 66.15 m²</text><path d="M57 294V307" stroke="#6a6a6a" stroke-width="0.9"/><path d="M55.8 295.8L57 293L58.2 295.8Z" fill="#3a3a3a"/><rect x="137.3" y="302.3" width="49.6" height="12.6" fill="#fff" stroke="#c9c9c9" stroke-width="0.6"/><rect x="104.5" y="302.0" width="33" height="13.2" fill="#a8a8a8"/><text class="c" x="109.06" y="311.3" textLength="23">E1.02</text><text class="a" x="141.46" y="307.75" textLength="28.9">1 PN / BR</text><text class="b" x="140.97" y="313.2" textLength="40.3">LOẠI / TYPE 3</text><text class="g" x="118.38" y="323.8" textLength="50">GSA: 51.23 m²</text><text class="g" x="118.01" y="333.7" textLength="50">NSA: 46.48 m²</text><path d="M144.2 290.5V302" stroke="#6a6a6a" stroke-width="0.9"/><path d="M143.0 292.3L144.2 289.5L145.39999999999998 292.3Z" fill="#3a3a3a"/><rect x="222.8" y="302.3" width="49.6" height="12.6" fill="#fff" stroke="#c9c9c9" stroke-width="0.6"/><rect x="190.0" y="302.0" width="33" height="13.2" fill="#a8a8a8"/><text class="c" x="194.56" y="311.3" textLength="23">E1.01</text><text class="a" x="226.93" y="307.75" textLength="28.9">2 PN / BR</text><text class="b" x="226.47" y="313.2" textLength="40.3">LOẠI / TYPE 3</text><text class="g" x="204.18" y="323.8" textLength="50">GSA: 70.17 m²</text><text class="g" x="203.81" y="333.7" textLength="50">NSA: 63.40 m²</text><path d="M229.5 290.5V302" stroke="#6a6a6a" stroke-width="0.9"/><path d="M228.3 292.3L229.5 289.5L230.7 292.3Z" fill="#3a3a3a"/><rect x="274.0" y="384.7" width="49.6" height="12.6" fill="#fff" stroke="#c9c9c9" stroke-width="0.6"/><rect x="241.2" y="384.4" width="33" height="13.2" fill="#a8a8a8"/><text class="c" x="245.76" y="393.7" textLength="23">E1.11</text><text class="a" x="278.18" y="390.15" textLength="28.9">3 PN / BR</text><text class="b" x="277.67" y="395.6" textLength="40.3">LOẠI / TYPE 1</text><text class="g" x="256.48" y="406.6" textLength="50">GSA: 96.45 m²</text><text class="g" x="256.11" y="417.3" textLength="50">NSA: 87.75 m²</text><path d="M282.3 367V384.4" stroke="#6a6a6a" stroke-width="0.9"/><path d="M281.1 368.8L282.3 366L283.5 368.8Z" fill="#3a3a3a"/><rect x="367.1" y="378.3" width="49.6" height="12.6" fill="#fff" stroke="#c9c9c9" stroke-width="0.6"/><rect x="334.3" y="378.0" width="33" height="13.2" fill="#a8a8a8"/><text class="c" x="338.86" y="387.3" textLength="23">E1.10</text><text class="a" x="371.23" y="383.75" textLength="28.9">2 PN / BR</text><text class="b" x="370.77" y="389.2" textLength="42.6">LOẠI / TYPE 10</text><text class="g" x="349.28" y="400.3" textLength="50">GSA: 67.32 m²</text><text class="g" x="348.91" y="410" textLength="50">NSA: 60.94 m²</text><path d="M375.6 366V378" stroke="#6a6a6a" stroke-width="0.9"/><path d="M374.40000000000003 367.8L375.6 365L376.8 367.8Z" fill="#3a3a3a"/><rect x="459.6" y="374.0" width="49.6" height="12.6" fill="#fff" stroke="#c9c9c9" stroke-width="0.6"/><rect x="426.8" y="373.7" width="33" height="13.2" fill="#a8a8a8"/><text class="c" x="431.36" y="383" textLength="23">E1.09</text><text class="a" x="463.73" y="379.45" textLength="28.9">2 PN / BR</text><text class="b" x="463.27" y="384.9" textLength="40.3">LOẠI / TYPE 6</text><text class="g" x="442.38" y="396" textLength="50">GSA: 76.14 m²</text><text class="g" x="442.01" y="405.1" textLength="50">NSA: 68.54 m²</text><path d="M468.1 351.6V373.7" stroke="#6a6a6a" stroke-width="0.9"/><path d="M466.90000000000003 353.40000000000003L468.1 350.6L469.3 353.40000000000003Z" fill="#3a3a3a"/><rect x="669.8" y="132.0" width="49.6" height="12.6" fill="#fff" stroke="#c9c9c9" stroke-width="0.6"/><rect x="637.0" y="131.7" width="33" height="13.2" fill="#a8a8a8"/><text class="c" x="641.56" y="141" textLength="23">E2.01</text><text class="a" x="673.93" y="137.45" textLength="28.9">2 PN / BR</text><text class="b" x="673.47" y="142.9" textLength="40.3">LOẠI / TYPE 1</text><text class="g" x="652.68" y="154" textLength="50">GSA: 74.40 m²</text><text class="g" x="652.31" y="163" textLength="50">NSA: 67.76 m²</text><path d="M678.2 164.5V179" stroke="#333" stroke-width="0.9"/><path d="M677.0 177.2L678.2 180L679.4000000000001 177.2Z" fill="#222"/><rect x="593.0" y="212.3" width="49.6" height="12.6" fill="#fff" stroke="#c9c9c9" stroke-width="0.6"/><rect x="560.2" y="212.0" width="33" height="13.2" fill="#a8a8a8"/><text class="c" x="564.76" y="221.3" textLength="23">E2.11</text><text class="a" x="597.13" y="217.75" textLength="28.9">2 PN / BR</text><text class="b" x="596.67" y="223.2" textLength="40.3">LOẠI / TYPE 7</text><text class="g" x="576.18" y="234" textLength="50">GSA: 71.67 m²</text><text class="g" x="575.81" y="243.7" textLength="50">NSA: 64.75 m²</text><path d="M601.5 246V261.5" stroke="#333" stroke-width="0.9"/><path d="M600.3 259.7L601.5 262.5L602.7 259.7Z" fill="#222"/><rect x="762.8" y="137.8" width="49.6" height="12.6" fill="#fff" stroke="#c9c9c9" stroke-width="0.6"/><rect x="730.0" y="137.5" width="33" height="13.2" fill="#a8a8a8"/><text class="c" x="734.56" y="146.8" textLength="23">E2.02</text><text class="a" x="766.93" y="143.25" textLength="28.9">2 PN / BR</text><text class="b" x="766.47" y="148.7" textLength="40.3">LOẠI / TYPE 3</text><text class="g" x="745.18" y="160" textLength="50">GSA: 74.95 m²</text><text class="g" x="744.81" y="169.5" textLength="50">NSA: 67.60 m²</text><path d="M771 171V184" stroke="#333" stroke-width="0.9"/><path d="M769.8 182.2L771 185L772.2 182.2Z" fill="#222"/><rect x="855.8" y="137.8" width="49.6" height="12.6" fill="#fff" stroke="#c9c9c9" stroke-width="0.6"/><rect x="823.0" y="137.5" width="33" height="13.2" fill="#a8a8a8"/><text class="c" x="827.56" y="146.8" textLength="23">E2.03</text><text class="a" x="859.93" y="143.25" textLength="28.9">2 PN / BR</text><text class="b" x="859.47" y="148.7" textLength="40.3">LOẠI / TYPE 3</text><text class="g" x="838.68" y="160" textLength="50">GSA: 71.43 m²</text><text class="g" x="838.31" y="169.5" textLength="50">NSA: 64.53 m²</text><path d="M864.2 171V184" stroke="#333" stroke-width="0.9"/><path d="M863.0 182.2L864.2 185L865.4000000000001 182.2Z" fill="#222"/><rect x="948.3" y="132.0" width="49.6" height="12.6" fill="#fff" stroke="#c9c9c9" stroke-width="0.6"/><rect x="915.5" y="131.7" width="33" height="13.2" fill="#a8a8a8"/><text class="c" x="920.06" y="141" textLength="23">E2.04</text><text class="a" x="952.43" y="137.45" textLength="28.9">2 PN / BR</text><text class="b" x="951.97" y="142.9" textLength="40.3">LOẠI / TYPE 1</text><text class="g" x="931.38" y="154" textLength="50">GSA: 74.39 m²</text><text class="g" x="931.01" y="163" textLength="50">NSA: 67.15 m²</text><path d="M957.2 164.5V179" stroke="#333" stroke-width="0.9"/><path d="M956.0 177.2L957.2 180L958.4000000000001 177.2Z" fill="#222"/><rect x="790.2" y="302.3" width="49.6" height="12.6" fill="#fff" stroke="#c9c9c9" stroke-width="0.6"/><rect x="757.4" y="302.0" width="33" height="13.2" fill="#a8a8a8"/><text class="c" x="761.96" y="311.3" textLength="23">E2.07</text><text class="a" x="794.33" y="307.75" textLength="28.9">2 PN / BR</text><text class="b" x="793.87" y="313.2" textLength="40.3">LOẠI / TYPE 3</text><text class="g" x="770.68" y="324.5" textLength="50">GSA: 70.17 m²</text><text class="g" x="770.31" y="334.2" textLength="50">NSA: 63.40 m²</text><path d="M796.2 290.5V302" stroke="#6a6a6a" stroke-width="0.9"/><path d="M795.0 292.3L796.2 289.5L797.4000000000001 292.3Z" fill="#3a3a3a"/><rect x="875.8" y="302.3" width="49.6" height="12.6" fill="#fff" stroke="#c9c9c9" stroke-width="0.6"/><rect x="843.0" y="302.0" width="33" height="13.2" fill="#a8a8a8"/><text class="c" x="847.56" y="311.3" textLength="23">E2.06</text><text class="a" x="879.96" y="307.75" textLength="28.9">1 PN / BR</text><text class="b" x="879.47" y="313.2" textLength="40.3">LOẠI / TYPE 3</text><text class="g" x="856.88" y="324.5" textLength="50">GSA: 51.23 m²</text><text class="g" x="856.51" y="334.2" textLength="50">NSA: 46.48 m²</text><path d="M882.5 290.5V302" stroke="#6a6a6a" stroke-width="0.9"/><path d="M881.3 292.3L882.5 289.5L883.7 292.3Z" fill="#3a3a3a"/><rect x="960.8" y="307.3" width="49.6" height="12.6" fill="#fff" stroke="#c9c9c9" stroke-width="0.6"/><rect x="928.0" y="307.0" width="33" height="13.2" fill="#a8a8a8"/><text class="c" x="932.56" y="316.3" textLength="23">E2.05</text><text class="a" x="964.93" y="312.75" textLength="28.9">2 PN / BR</text><text class="b" x="964.47" y="318.2" textLength="40.3">LOẠI / TYPE 1</text><text class="g" x="942.68" y="329.5" textLength="50">GSA: 73.87 m²</text><text class="g" x="942.31" y="339.2" textLength="50">NSA: 66.15 m²</text><path d="M968 294V307" stroke="#6a6a6a" stroke-width="0.9"/><path d="M966.8 295.8L968 293L969.2 295.8Z" fill="#3a3a3a"/><rect x="552.3" y="374.0" width="49.6" height="12.6" fill="#fff" stroke="#c9c9c9" stroke-width="0.6"/><rect x="519.5" y="373.7" width="33" height="13.2" fill="#a8a8a8"/><text class="c" x="524.06" y="383" textLength="23">E2.10</text><text class="a" x="556.43" y="379.45" textLength="28.9">2 PN / BR</text><text class="b" x="555.97" y="384.9" textLength="40.3">LOẠI / TYPE 6</text><text class="g" x="535.08" y="396" textLength="50">GSA: 76.14 m²</text><text class="g" x="534.71" y="405.1" textLength="50">NSA: 68.54 m²</text><path d="M560.8 351.6V373.7" stroke="#6a6a6a" stroke-width="0.9"/><path d="M559.5999999999999 353.40000000000003L560.8 350.6L562.0 353.40000000000003Z" fill="#3a3a3a"/><rect x="644.8" y="378.3" width="49.6" height="12.6" fill="#fff" stroke="#c9c9c9" stroke-width="0.6"/><rect x="612.0" y="378.0" width="33" height="13.2" fill="#a8a8a8"/><text class="c" x="616.56" y="387.3" textLength="23">E2.09</text><text class="a" x="648.93" y="383.75" textLength="28.9">2 PN / BR</text><text class="b" x="648.47" y="389.2" textLength="42.6">LOẠI / TYPE 10</text><text class="g" x="627.58" y="400.3" textLength="50">GSA: 67.32 m²</text><text class="g" x="627.21" y="410" textLength="50">NSA: 60.94 m²</text><path d="M653.3 366V378" stroke="#6a6a6a" stroke-width="0.9"/><path d="M652.0999999999999 367.8L653.3 365L654.5 367.8Z" fill="#3a3a3a"/><rect x="737.3" y="384.7" width="49.6" height="12.6" fill="#fff" stroke="#c9c9c9" stroke-width="0.6"/><rect x="704.5" y="384.4" width="33" height="13.2" fill="#a8a8a8"/><text class="c" x="709.06" y="393.7" textLength="23">E2.08</text><text class="a" x="741.48" y="390.15" textLength="28.9">3 PN / BR</text><text class="b" x="740.97" y="395.6" textLength="40.3">LOẠI / TYPE 1</text><text class="g" x="720.08" y="406.6" textLength="50">GSA: 96.45 m²</text><text class="g" x="719.71" y="417.3" textLength="50">NSA: 87.75 m²</text><path d="M745.8 367V384.4" stroke="#6a6a6a" stroke-width="0.9"/><path d="M744.5999999999999 368.8L745.8 366L747.0 368.8Z" fill="#3a3a3a"/>
</g>
<rect x="165.6" y="492.2" width="38.8" height="31.2" fill="#dcd8b9" stroke="#555" stroke-width="1.6"/><rect x="366.40000000000003" y="492.2" width="38.8" height="31.2" fill="#ece6d6" stroke="#555" stroke-width="1.6"/><rect x="567.5" y="492.2" width="38.8" height="31.2" fill="#cdc5ad" stroke="#555" stroke-width="1.6"/><text class="serif" x="227.5" y="516.5" font-size="22" font-weight="bold" fill="#111">1</text><text class="serif" x="238" y="517" font-size="23.5" font-weight="bold" fill="#111">房</text><text class="serif" x="423.5" y="516.5" font-size="22" font-weight="bold" fill="#111">2</text><text class="serif" x="441" y="517" font-size="23.5" font-weight="bold" fill="#111">房</text><text class="serif" x="634.5" y="508.7" font-size="22" font-weight="bold" fill="#111">3</text><text class="serif" x="654" y="510.6" font-size="23.5" font-weight="bold" fill="#111">房</text>
<g filter="url(#soft2)"><path d="M887.2 462.9H907.3V467L912 468.6L914 467.6H919L921.5 468.6L926.5 467V462.9H946.5L947 469.6H933.7V474.4H900.9V469.6H886.8Z" fill="#c78b3f"/><text x="913.6" y="465.4" font-size="5.2" fill="#9a9a9a">E</text><text class="serif" x="899.4" y="486.5" font-size="6.9" fill="#d2a46c" textLength="35.6" lengthAdjust="spacing">RIVIERA</text><path d="M846.5 462.6H857.6V478.6H853.5V476.5L852 478.6V490.3H844.2V472.5H849L850 470.5L846.5 471Z" stroke="#b9b9b9" stroke-width="0.6" fill="none"/><path d="M864 493H870.5V499.5H886.5V505H869.5V512H850V505H863V497.5H864Z" stroke="#b9b9b9" stroke-width="0.6" fill="none"/><path d="M967.5 461.8H978.5V471.5H981.6V488.5H973V478H970.5L970 477H967.5Z" stroke="#b9b9b9" stroke-width="0.6" fill="none"/><path d="M957 493H965V505H978.5V512H959.5V506H941.2V499.5H957Z" stroke="#b9b9b9" stroke-width="0.6" fill="none"/><text x="859.8" y="471.3" font-size="5.8" fill="#9c9c9c">B</text><text x="875.6" y="498.6" font-size="6" fill="#9c9c9c">D</text><text x="959.8" y="483.3" font-size="6" fill="#9c9c9c">A</text><text x="947.8" y="498.8" font-size="6" fill="#9c9c9c">C</text><ellipse cx="987.3" cy="456" rx="4.8" ry="4.4" fill="none" stroke="#555" stroke-width="0.5"/><path d="M988 455.6L996 452.8" stroke="#333" stroke-width="0.9"/><text x="996.6" y="452" font-size="2.6" font-weight="bold" fill="#444">N</text></g>
</svg>
</body></html>
